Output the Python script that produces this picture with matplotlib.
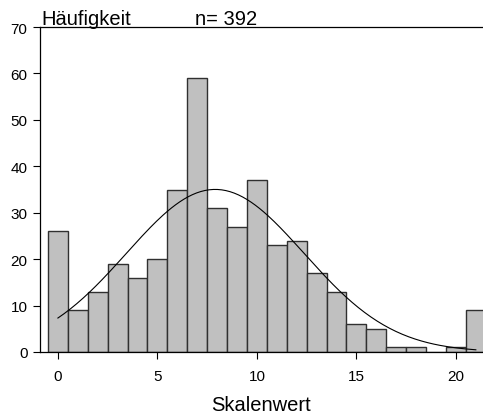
""" Histogram of Skalenwert with fitted normal curve """

import matplotlib
matplotlib.use('Agg')
import matplotlib.pyplot as plt
import numpy as np

plt.rcParams['font.family'] = ['Liberation Sans', 'DejaVu Sans']

# data

skalenwert = np.arange(0, 22)
haeufigkeit = np.array([26, 9, 13, 19, 16, 20, 35, 59, 31, 27, 37,
                        23, 24, 17, 13, 6, 5, 1, 1, 0, 1, 9])

n = haeufigkeit.sum()
mean = np.sum(skalenwert * haeufigkeit) / n
sd = np.sqrt(np.sum(haeufigkeit * (skalenwert - mean) ** 2) / (n - 1))

# figure design

fig = plt.figure(figsize=(4.83, 4.14), dpi=100)
ax = fig.add_axes([40 / 483, 1 - 353 / 414, 1 - 40 / 483, (353 - 28) / 414])

ax.bar(skalenwert, haeufigkeit, width=1.0, color='#c0c0c0',
       edgecolor='#303030', linewidth=1.0)

x_curve = np.linspace(0, 21, 200)
y_curve = n / (sd * np.sqrt(2 * np.pi)) * np.exp(-0.5 * ((x_curve - mean) / sd) ** 2)
ax.plot(x_curve, y_curve, color='black', lw=0.8)

ax.set_xlim(-0.9, 21.36)
ax.set_ylim(0, 70)
ax.set_xticks([0, 5, 10, 15, 20])
ax.set_yticks(range(0, 71, 10))
ax.tick_params(axis='both', labelsize=11, direction='out', length=5, width=0.8)
ax.tick_params(axis='x', pad=7)
ax.tick_params(axis='y', pad=4)
for side in ['left', 'bottom', 'top']:
    ax.spines[side].set_linewidth(0.9)
ax.spines['right'].set_visible(False)

ax.set_xlabel('Skalenwert', fontsize=14.5, labelpad=9)
ax.text(0.003, 1.008, 'Häufigkeit', transform=ax.transAxes, fontsize=14.5,
        ha='left', va='baseline')
ax.text(155 / 443, 1.008, f'n= {n}', transform=ax.transAxes, fontsize=14.5,
        ha='left', va='baseline')

# saving

fig.savefig('out.png', dpi=100)
